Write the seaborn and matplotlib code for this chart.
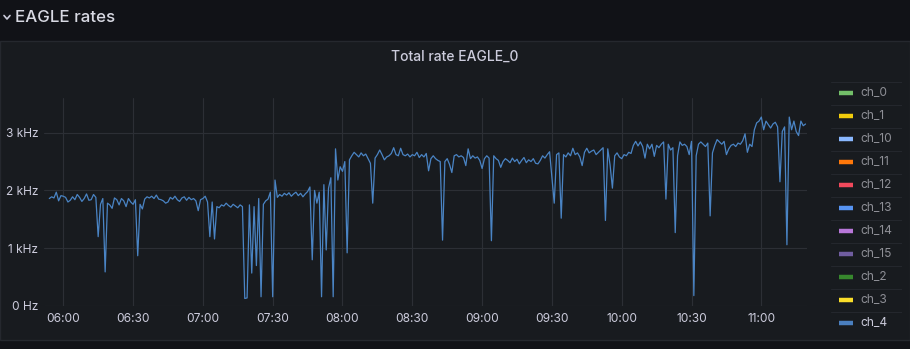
import numpy as np
import pandas as pd
import matplotlib
matplotlib.use('Agg')
import matplotlib.pyplot as plt
from matplotlib.lines import Line2D
from matplotlib.patches import Rectangle
from matplotlib.ticker import FuncFormatter, MultipleLocator
import seaborn as sns

# --- data: ch_4 total rate, one sample per minute starting 05:54 (kHz) ---
start_minute = 5 * 60 + 54
rate_khz = [
    1.86, 1.89, 1.87, 1.97, 1.82, 1.91, 1.90, 1.88, 1.80, 1.83,  # 05:54
    1.89, 1.84, 1.93, 1.88, 1.81, 1.86, 1.94, 1.83, 1.84, 1.93,  # 06:04
    1.88, 1.20, 1.76, 1.86, 0.59, 1.78, 1.75, 1.69, 1.87, 1.84,  # 06:14
    1.75, 1.86, 1.82, 1.72, 1.86, 1.80, 1.76, 1.84, 0.87, 1.76,  # 06:24
    1.68, 1.85, 1.89, 1.87, 1.90, 1.86, 1.92, 1.85, 1.84, 1.82,  # 06:34
    1.78, 1.80, 1.88, 1.85, 1.90, 1.84, 1.81, 1.87, 1.89, 1.83,  # 06:44
    1.88, 1.84, 1.86, 1.82, 1.65, 1.84, 1.86, 1.90, 1.80, 1.20,  # 06:54
    1.80, 1.16, 1.72, 1.70, 1.75, 1.73, 1.78, 1.74, 1.71, 1.76,  # 07:04
    1.73, 1.70, 1.75, 1.72, 0.13, 0.14, 1.75, 0.57, 1.72, 0.70,  # 07:14
    1.86, 0.16, 1.76, 1.82, 1.85, 1.97, 0.16, 2.18, 1.88, 1.93,  # 07:24
    1.90, 1.95, 1.92, 1.96, 1.90, 1.94, 1.97, 1.91, 1.95, 1.89,  # 07:34
    1.94, 1.98, 2.06, 0.80, 2.00, 1.78, 1.97, 0.16, 2.10, 0.97,  # 07:44
    2.04, 2.22, 0.16, 2.72, 2.18, 2.41, 2.33, 2.50, 0.92, 2.53,  # 07:54
    2.60, 2.66, 2.62, 2.58, 2.65, 2.60, 2.63, 2.55, 2.47, 1.78,  # 08:04
    2.56, 2.62, 2.70, 2.62, 2.53, 2.58, 2.60, 2.64, 2.74, 2.62,  # 08:14
    2.60, 2.73, 2.62, 2.60, 2.63, 2.58, 2.62, 2.60, 2.66, 2.57,  # 08:24
    2.62, 2.58, 2.64, 2.34, 2.55, 2.60, 2.55, 2.52, 2.50, 1.14,  # 08:34
    2.50, 2.55, 2.45, 2.31, 2.60, 2.62, 2.58, 2.60, 2.57, 2.43,  # 08:44
    2.72, 2.55, 2.60, 2.56, 2.58, 2.52, 2.38, 2.55, 2.60, 2.56,  # 08:54
    1.13, 2.60, 2.55, 2.52, 2.40, 2.50, 2.55, 2.52, 2.48, 2.56,  # 09:04
    2.50, 2.54, 2.46, 2.52, 2.57, 2.48, 2.53, 2.50, 2.55, 2.47,  # 09:14
    2.46, 2.52, 2.60, 2.56, 2.62, 2.67, np.nan, 1.78, 2.62, 2.65,  # 09:24
    1.52, 2.62, 2.58, 2.65, 2.60, 2.73, 2.62, 2.65, 2.58, 2.43,  # 09:34
    2.66, 2.73, 2.65, 2.68, 2.70, 2.62, 2.66, 2.70, 2.74, 1.48,  # 09:44
    2.72, 2.44, 2.04, 2.60, 2.65, 2.58, 2.55, 2.62, 2.60, 2.66,  # 09:54
    2.64, 2.78, 2.85, 2.77, 2.84, 2.76, 2.56, 2.80, 2.72, 2.80,  # 10:04
    2.59, 2.78, 2.74, 2.80, 2.84, 1.85, 2.80, 2.70, 2.74, 1.27,  # 10:14
    2.60, 2.84, 2.78, 2.80, 2.76, 2.62, 2.85, 0.18, 2.60, 2.80,  # 10:24
    2.84, 2.80, 2.76, 2.82, 1.56, 2.65, 2.78, 2.88, 2.84, 2.80,  # 10:34
    2.85, 2.62, 2.72, 2.78, 2.80, 2.76, 2.82, 2.80, 2.86, 2.98,  # 10:44
    2.66, 2.80, 2.76, 3.05, 3.17, 3.20, 3.27, 3.05, 3.20, 3.14,  # 10:54
    3.08, 3.15, 3.18, 3.10, 2.15, 3.02, 3.10, 1.06, 3.27, 3.05,  # 11:04
    3.20, 3.02, 2.95, 3.20, 3.12, 3.15,                          # 11:14
]

legend_names = ['ch_0', 'ch_1', 'ch_10', 'ch_11', 'ch_12', 'ch_13',
                'ch_14', 'ch_15', 'ch_2', 'ch_3', 'ch_4']
legend_colors = ['#73bf69', '#f2cc0c', '#8ab8ff', '#ff780a', '#f2495c', '#5794f2',
                 '#b877d9', '#705da0', '#37872d', '#fade2a', '#4a7fbf']
shown_series = 'ch_4'

page_bg = '#111217'
panel_bg = '#181b1f'
text_col = '#ccccdc'
grid_col = '#2c2f35'
line_col = '#4a84c4'

sns.set_theme(style='dark')
plt.rcParams['font.family'] = ['Inter', 'DejaVu Sans']

W, H = 910, 349
fig = plt.figure(figsize=(W / 100, H / 100), dpi=100)
fig.patch.set_facecolor(page_bg)


def fx(px):
    return px / W


def fy(py):
    return 1 - py / H


# panel background (drawn behind the axes)
fig.patches.append(Rectangle((0, fy(340)), 1, fy(41) - fy(340), transform=fig.transFigure,
                             facecolor=panel_bg, edgecolor='#25282e', linewidth=1, zorder=-10))

# row header
fig.add_artist(Line2D([fx(4), fx(7), fx(10)], [fy(15.5), fy(19), fy(15.5)],
                      transform=fig.transFigure, color=text_col, lw=1.2))
fig.text(fx(15), fy(17), 'EAGLE rates', color='#d8d9e3', fontsize=12.2,
         fontweight='medium', va='center', ha='left')
fig.text(fx(455), fy(57), 'Total rate EAGLE_0', color=text_col, fontsize=10,
         fontweight='medium', va='center', ha='center')

# main plot
ax = fig.add_axes([fx(44.3), fy(306), fx(806.7) - fx(44.3), fy(98) - fy(306)])
ax.set_facecolor(panel_bg)
df = pd.DataFrame({'minute': start_minute + np.arange(len(rate_khz)), 'rate': rate_khz})
sns.lineplot(data=df, x='minute', y='rate', ax=ax, color=line_col, lw=0.9)

ax.set_xlim(start_minute - 2.15, start_minute + 325.5)
ax.set_ylim(0, 3.6)
ax.xaxis.set_major_locator(MultipleLocator(30))
ax.yaxis.set_major_locator(MultipleLocator(1))
ax.xaxis.set_major_formatter(FuncFormatter(lambda v, p: f'{int(v) // 60:02d}:{int(v) % 60:02d}'))
ax.yaxis.set_major_formatter(FuncFormatter(lambda v, p: '0 Hz' if v == 0 else f'{v:g} kHz'))
ax.set_xlabel('')
ax.set_ylabel('')
ax.grid(True, color=grid_col, lw=0.8)
ax.tick_params(length=0, labelsize=8.6, labelcolor=text_col)
ax.tick_params(axis='y', pad=4.3)
ax.tick_params(axis='x', pad=5)
for s in ax.spines.values():
    s.set_visible(False)

# legend list on the right
lg = fig.add_axes([fx(831), fy(334.7), fx(902) - fx(831), fy(81.7) - fy(334.7)])
lg.set_xlim(831, 902)
lg.set_ylim(len(legend_names), 0)
lg.axis('off')
for i, (name, col) in enumerate(zip(legend_names, legend_colors)):
    lg.hlines(i + 0.5, 839, 852.7, color=col, lw=3.2)
    lg.text(860.7, i + 0.5, name, va='center', ha='left', fontsize=8.6,
            color=text_col if name == shown_series else '#8e8f96')
for k in range(len(legend_names) + 1):
    lg.axhline(k, color='#24272d', lw=0.8)

fig.savefig('out.png', dpi=100, facecolor=page_bg)
